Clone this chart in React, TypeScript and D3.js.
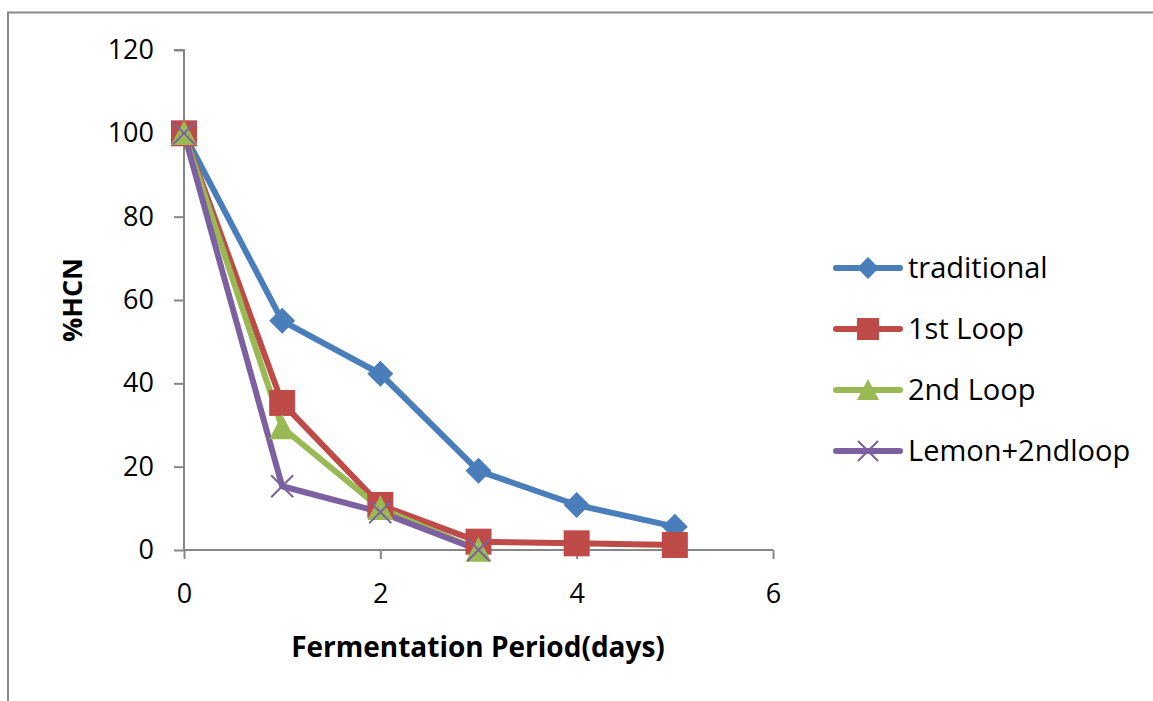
import React, { useEffect, useRef } from "react";
import * as d3 from "d3";

const days = [0, 1, 2, 3, 4, 5];
const traditional = [100, 55, 42.3, 19, 10.8, 5.6];
const firstLoop = [100, 35.3, 10.8, 2, 1.6, 1.2];
const secondLoop = [100, 29.4, 10, 0];
const lemonLoop = [100, 15.3, 9.1, 0];
const yTicks = [0, 20, 40, 60, 80, 100, 120];
const xTicks = [0, 2, 4, 6];

const seriesList = [
  { name: "traditional", values: traditional, color: "#4A7EBB", marker: "diamond" },
  { name: "1st Loop", values: firstLoop, color: "#BE4B48", marker: "square" },
  { name: "2nd Loop", values: secondLoop, color: "#98B954", marker: "triangle" },
  { name: "Lemon+2ndloop", values: lemonLoop, color: "#7D60A0", marker: "x" },
];

const FONT = "'Open Sans', sans-serif";

function drawMarker(g, type, color, cx, cy, r) {
  if (type === "diamond") {
    g.append("path")
      .attr("d", `M${cx},${cy - r}L${cx + r},${cy}L${cx},${cy + r}L${cx - r},${cy}Z`)
      .attr("fill", color);
  } else if (type === "square") {
    g.append("rect")
      .attr("x", cx - r)
      .attr("y", cy - r)
      .attr("width", 2 * r)
      .attr("height", 2 * r)
      .attr("fill", color);
  } else if (type === "triangle") {
    g.append("path")
      .attr("d", `M${cx},${cy - r}L${cx + r},${cy + r * 0.9}L${cx - r},${cy + r * 0.9}Z`)
      .attr("fill", color);
  } else {
    g.append("path")
      .attr("d", `M${cx - r},${cy - r}L${cx + r},${cy + r}M${cx - r},${cy + r}L${cx + r},${cy - r}`)
      .attr("stroke", color)
      .attr("stroke-width", 2);
  }
}

export default function App() {
  const svgRef = useRef(null);

  useEffect(() => {
    const svg = d3.select(svgRef.current);
    svg.selectAll("*").remove();

    const x = d3.scaleLinear().domain([0, 6]).range([184, 773]);
    const y = d3.scaleLinear().domain([0, 120]).range([550, 50]);

    // outer border (only top and left visible)
    svg.append("path")
      .attr("d", "M8,701V12.5H1153")
      .attr("fill", "none")
      .attr("stroke", "#8a8a8a")
      .attr("stroke-width", 2);

    const axisColor = "#868686";

    const yAxis = svg.append("g").attr("transform", `translate(${x(0)},0)`)
      .call(d3.axisLeft(y).tickValues(yTicks).tickSize(10).tickPadding(20));
    const xAxis = svg.append("g").attr("transform", `translate(0,${y(0)})`)
      .call(d3.axisBottom(x).tickValues(xTicks).tickFormat(d3.format("d")).tickSize(9).tickPadding(25));

    [yAxis, xAxis].forEach((a) => {
      a.select(".domain").attr("stroke", axisColor).attr("stroke-width", 2);
      a.selectAll(".tick line").attr("stroke", axisColor).attr("stroke-width", 2);
      a.selectAll(".tick text")
        .attr("fill", "#000")
        .style("font-family", FONT)
        .style("font-size", "27px");
    });
    yAxis.select(".domain").attr("d", `M-10,${y(120)}H0V${y(0)}`);
    xAxis.select(".domain").attr("d", `M${x(0)},0H${x(6)}`);

    const line = d3.line().x((d, i) => x(days[i])).y((d) => y(d));

    seriesList.forEach((s) => {
      svg.append("path")
        .datum(s.values)
        .attr("d", line)
        .attr("fill", "none")
        .attr("stroke", s.color)
        .attr("stroke-width", 6)
        .attr("stroke-linejoin", "round");
    });
    seriesList.forEach((s) => {
      const g = svg.append("g");
      const r = s.marker === "x" ? 11 : 13;
      s.values.forEach((v, i) => drawMarker(g, s.marker, s.color, x(days[i]), y(v), r));
    });

    // legend
    const legendY = d3.scaleLinear().domain([0, 3]).range([268, 451]);
    seriesList.forEach((s, i) => {
      const ly = legendY(i);
      const g = svg.append("g");
      g.append("line")
        .attr("x1", 836).attr("x2", 900)
        .attr("y1", ly).attr("y2", ly)
        .attr("stroke", s.color)
        .attr("stroke-width", 6)
        .attr("stroke-linecap", "round");
      drawMarker(g, s.marker, s.color, 868, ly, s.marker === "x" ? 10 : 11);
      g.append("text")
        .attr("x", 908)
        .attr("y", ly + 10)
        .style("font-family", FONT)
        .style("font-size", "29px")
        .text(s.name);
    });

    // axis titles
    svg.append("text")
      .attr("x", 478)
      .attr("y", 657)
      .attr("text-anchor", "middle")
      .style("font-family", FONT)
      .style("font-weight", "bold")
      .style("font-size", "28px")
      .text("Fermentation Period(days)");

    svg.append("text")
      .attr("transform", `translate(82,${(y(0) + y(120)) / 2}) rotate(-90)`)
      .attr("text-anchor", "middle")
      .style("font-family", FONT)
      .style("font-weight", "bold")
      .style("font-size", "27px")
      .text("%HCN");
  }, []);

  return (
    <div style={{ position: "absolute", left: 0, top: 0 }}>
      <svg ref={svgRef} width={1153} height={701} style={{ display: "block", background: "#fff" }} />
    </div>
  );
}
